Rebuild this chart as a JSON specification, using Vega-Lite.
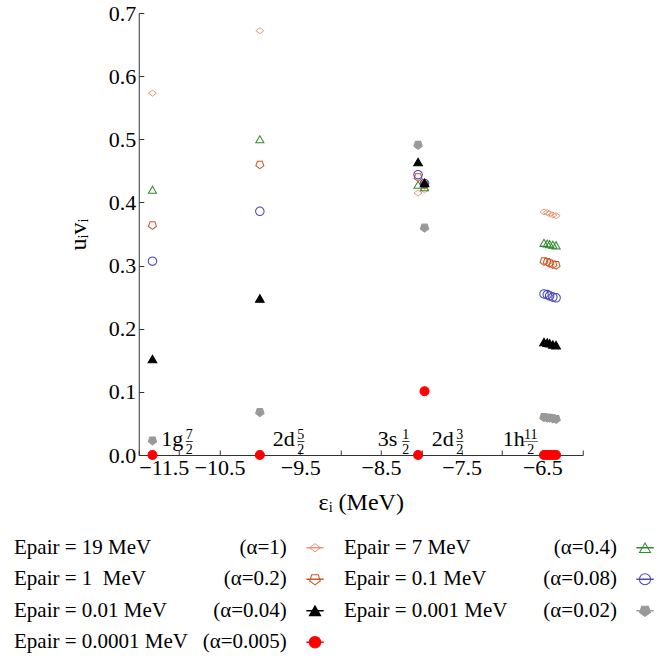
{
  "$schema": "https://vega.github.io/schema/vega-lite/v6.json",
  "padding": {"left": 14, "top": 2, "right": 0, "bottom": 0},
  "background": "white",
  "config": {
    "font": "Liberation Serif",
    "view": {"stroke": null},
    "axis": {"grid": false, "domainColor": "#333333", "tickColor": "#333333", "labelColor": "#000000", "titleColor": "#000000", "labelFont": "Liberation Serif", "titleFont": "Liberation Serif", "labelFontSize": 22, "titleFontSize": 24, "titleFontWeight": "normal"}
  },
  "center": true,
  "spacing": 18,
  "resolve": {"scale": {"x": "independent", "y": "independent", "size": "independent"}},
  "datasets": {
    "pts": [
      {"s": "19", "e": -11.33, "u": 0.573}, {"s": "7", "e": -11.33, "u": 0.42}, {"s": "1", "e": -11.33, "u": 0.364}, {"s": "0.1", "e": -11.33, "u": 0.307}, {"s": "0.01", "e": -11.33, "u": 0.152}, {"s": "0.001", "e": -11.33, "u": 0.023}, {"s": "0.0001", "e": -11.33, "u": 0.0},
      {"s": "19", "e": -10.0, "u": 0.672}, {"s": "7", "e": -10.0, "u": 0.5}, {"s": "1", "e": -10.0, "u": 0.46}, {"s": "0.1", "e": -10.0, "u": 0.386}, {"s": "0.01", "e": -10.0, "u": 0.248}, {"s": "0.001", "e": -10.0, "u": 0.068}, {"s": "0.0001", "e": -10.0, "u": 0.0},
      {"s": "19", "e": -8.04, "u": 0.415}, {"s": "7", "e": -8.04, "u": 0.428}, {"s": "1", "e": -8.04, "u": 0.44}, {"s": "0.1", "e": -8.04, "u": 0.444}, {"s": "0.01", "e": -8.04, "u": 0.464}, {"s": "0.001", "e": -8.04, "u": 0.491}, {"s": "0.0001", "e": -8.04, "u": 0.0},
      {"s": "19", "e": -7.96, "u": 0.42}, {"s": "7", "e": -7.96, "u": 0.424}, {"s": "1", "e": -7.96, "u": 0.428}, {"s": "0.1", "e": -7.96, "u": 0.43}, {"s": "0.01", "e": -7.96, "u": 0.431}, {"s": "0.001", "e": -7.96, "u": 0.36}, {"s": "0.0001", "e": -7.96, "u": 0.101},
      {"s": "19", "e": -6.48, "u": 0.385}, {"s": "19", "e": -6.44, "u": 0.384}, {"s": "19", "e": -6.41, "u": 0.382}, {"s": "19", "e": -6.37, "u": 0.38}, {"s": "19", "e": -6.33, "u": 0.379},
      {"s": "7", "e": -6.48, "u": 0.336}, {"s": "7", "e": -6.44, "u": 0.335}, {"s": "7", "e": -6.41, "u": 0.334}, {"s": "7", "e": -6.37, "u": 0.333}, {"s": "7", "e": -6.33, "u": 0.332},
      {"s": "1", "e": -6.48, "u": 0.307}, {"s": "1", "e": -6.44, "u": 0.306}, {"s": "1", "e": -6.41, "u": 0.304}, {"s": "1", "e": -6.37, "u": 0.302}, {"s": "1", "e": -6.33, "u": 0.301},
      {"s": "0.1", "e": -6.48, "u": 0.255}, {"s": "0.1", "e": -6.44, "u": 0.254}, {"s": "0.1", "e": -6.41, "u": 0.252}, {"s": "0.1", "e": -6.37, "u": 0.25}, {"s": "0.1", "e": -6.33, "u": 0.249},
      {"s": "0.01", "e": -6.48, "u": 0.179}, {"s": "0.01", "e": -6.44, "u": 0.178}, {"s": "0.01", "e": -6.41, "u": 0.177}, {"s": "0.01", "e": -6.37, "u": 0.175}, {"s": "0.01", "e": -6.33, "u": 0.174},
      {"s": "0.001", "e": -6.48, "u": 0.06}, {"s": "0.001", "e": -6.44, "u": 0.059}, {"s": "0.001", "e": -6.41, "u": 0.059}, {"s": "0.001", "e": -6.37, "u": 0.058}, {"s": "0.001", "e": -6.33, "u": 0.057},
      {"s": "0.0001", "e": -6.48, "u": 0.0}, {"s": "0.0001", "e": -6.44, "u": 0.0}, {"s": "0.0001", "e": -6.41, "u": 0.0}, {"s": "0.0001", "e": -6.37, "u": 0.0}, {"s": "0.0001", "e": -6.33, "u": 0.0}
    ],
    "states": [
      {"name": "1g", "num": "7", "den": "2", "bar": "–", "e": -11.22},
      {"name": "2d", "num": "5", "den": "2", "bar": "–", "e": -9.84},
      {"name": "3s", "num": "1", "den": "2", "bar": "–", "e": -8.54},
      {"name": "2d", "num": "3", "den": "2", "bar": "–", "e": -7.87},
      {"name": "1h", "num": "11", "den": "2", "bar": "—", "e": -6.99}
    ],
    "leg": [
      {"s": "19", "label": "Epair = 19 MeV", "alpha": "(α=1)", "col": "L", "row": 1},
      {"s": "1", "label": "Epair = 1\u00a0\u00a0MeV", "alpha": "(α=0.2)", "col": "L", "row": 2},
      {"s": "0.01", "label": "Epair = 0.01 MeV", "alpha": "(α=0.04)", "col": "L", "row": 3},
      {"s": "0.0001", "label": "Epair = 0.0001 MeV", "alpha": "(α=0.005)", "col": "L", "row": 4},
      {"s": "7", "label": "Epair = 7 MeV", "alpha": "(α=0.4)", "col": "R", "row": 1},
      {"s": "0.1", "label": "Epair = 0.1 MeV", "alpha": "(α=0.08)", "col": "R", "row": 2},
      {"s": "0.001", "label": "Epair = 0.001 MeV", "alpha": "(α=0.02)", "col": "R", "row": 3}
    ]
  },
  "vconcat": [
    {
      "width": 444,
      "height": 442,
      "layer": [
        {
          "data": {"name": "pts"},
          "mark": {"type": "point", "opacity": 1},
          "encoding": {
            "x": {"field": "e", "type": "quantitative", "scale": {"domain": [-11.5, -6], "nice": false, "zero": false},
              "axis": {"title": "εᵢ (MeV)", "values": [-11.5, -11, -10.5, -10, -9.5, -9, -8.5, -8, -7.5, -7, -6.5, -6], "labelExpr": "abs((datum.value*2) % 2) == 1 ? format(datum.value, '.1f') : ''", "labelOverlap": false, "tickSize": -5, "labelPadding": 7, "titlePadding": 12}},
            "y": {"field": "u", "type": "quantitative", "scale": {"domain": [0, 0.7], "nice": false, "zero": false},
              "axis": {"title": "uᵢvᵢ", "values": [0, 0.1, 0.2, 0.3, 0.4, 0.5, 0.6, 0.7], "format": ".1f", "tickSize": -5, "labelPadding": 8, "titlePadding": 18}},
            "shape": {"field": "s", "type": "nominal", "legend": null, "scale": {"domain": ["19", "7", "1", "0.1", "0.01", "0.001", "0.0001"], "range": ["M-1,0L0,-0.75L1,0L0,0.75Z", "triangle-up", "M0,1L-0.951,0.309L-0.588,-0.809L0.588,-0.809L0.951,0.309Z", "circle", "triangle-up", "M0,1L-0.951,0.309L-0.588,-0.809L0.588,-0.809L0.951,0.309Z", "circle"]}},
            "stroke": {"field": "s", "type": "nominal", "legend": null, "scale": {"domain": ["19", "7", "1", "0.1", "0.01", "0.001", "0.0001"], "range": ["#EC9478", "#2E8B2E", "#CC5522", "#4848B8", "#000000", "#999999", "#FF0000"]}},
            "fill": {"field": "s", "type": "nominal", "legend": null, "scale": {"domain": ["19", "7", "1", "0.1", "0.01", "0.001", "0.0001"], "range": ["transparent", "transparent", "transparent", "transparent", "#000000", "#999999", "#FF0000"]}},
            "size": {"field": "s", "type": "nominal", "legend": null, "scale": {"domain": ["19", "7", "1", "0.1", "0.01", "0.001", "0.0001"], "range": [64, 80, 65, 90, 70, 90, 18]}},
            "strokeWidth": {"field": "s", "type": "nominal", "legend": null, "scale": {"domain": ["19", "7", "1", "0.1", "0.01", "0.001", "0.0001"], "range": [1, 1.1, 1.8, 1, 1, 1, 0.8]}}
          }
        },
        {
          "data": {"name": "states"},
          "mark": {"type": "text", "align": "left", "baseline": "alphabetic", "dy": -9, "fontSize": 22, "color": "#000000"},
          "encoding": {"x": {"field": "e", "type": "quantitative"}, "y": {"datum": 0, "type": "quantitative"}, "text": {"field": "name"}}
        },
        {
          "data": {"name": "states"},
          "mark": {"type": "text", "align": "center", "baseline": "alphabetic", "dx": 28, "dy": -16, "fontSize": 14, "color": "#000000"},
          "encoding": {"x": {"field": "e", "type": "quantitative"}, "y": {"datum": 0, "type": "quantitative"}, "text": {"field": "num"}}
        },
        {
          "data": {"name": "states"},
          "mark": {"type": "text", "align": "center", "baseline": "alphabetic", "dx": 28, "dy": -10, "fontSize": 14, "color": "#000000"},
          "encoding": {"x": {"field": "e", "type": "quantitative"}, "y": {"datum": 0, "type": "quantitative"}, "text": {"field": "bar"}}
        },
        {
          "data": {"name": "states"},
          "mark": {"type": "text", "align": "center", "baseline": "alphabetic", "dx": 28, "dy": -1, "fontSize": 14, "color": "#000000"},
          "encoding": {"x": {"field": "e", "type": "quantitative"}, "y": {"datum": 0, "type": "quantitative"}, "text": {"field": "den"}}
        }
      ]
    },
    {
      "width": 694,
      "height": 126,
      "data": {"name": "leg"},
      "encoding": {
        "y": {"field": "row", "type": "ordinal", "axis": null, "scale": {"type": "point", "padding": 0.5}}
      },
      "layer": [
        {
          "mark": {"type": "text", "align": "left", "baseline": "middle", "fontSize": 21, "color": "#000000"},
          "encoding": {"x": {"field": "col", "type": "nominal", "axis": null, "bandPosition": 0, "scale": {"type": "band", "paddingInner": 0.073, "paddingOuter": 0.088, "align": 0}}, "text": {"field": "label"}}
        },
        {
          "mark": {"type": "text", "align": "right", "baseline": "middle", "fontSize": 21, "color": "#000000"},
          "encoding": {"x": {"field": "col", "type": "nominal", "axis": null, "bandPosition": 0.892}, "text": {"field": "alpha"}}
        },
        {
          "mark": {"type": "point", "shape": "M-1,0L1,0", "size": 300, "strokeWidth": 1.5, "opacity": 1},
          "encoding": {"x": {"field": "col", "type": "nominal", "axis": null, "bandPosition": 0.984},
            "stroke": {"field": "s", "type": "nominal", "legend": null}}
        },
        {
          "mark": {"type": "point", "opacity": 1},
          "encoding": {"x": {"field": "col", "type": "nominal", "axis": null, "bandPosition": 0.984},
            "shape": {"field": "s", "type": "nominal", "legend": null},
            "stroke": {"field": "s", "type": "nominal", "legend": null},
            "fill": {"field": "s", "type": "nominal", "legend": null},
            "strokeWidth": {"field": "s", "type": "nominal", "legend": null},
            "size": {"field": "s", "type": "nominal", "legend": null, "scale": {"domain": ["19", "7", "1", "0.1", "0.01", "0.001", "0.0001"], "range": [120, 130, 110, 140, 130, 140, 60]}}}
        }
      ]
    }
  ]
}
